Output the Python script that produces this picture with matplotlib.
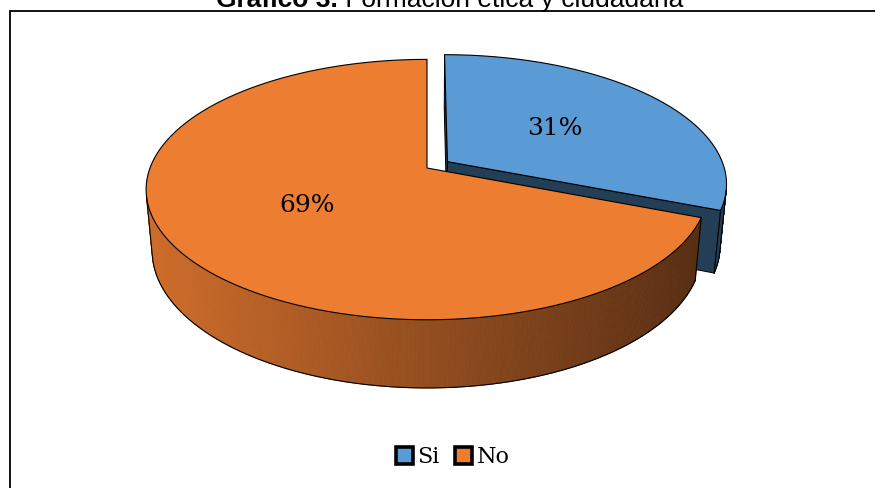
import numpy as np
import matplotlib.pyplot as plt
from matplotlib.patches import Polygon, Patch

labels = ['Si', 'No']
values = [31, 69]
top_colors = ['#5B9BD5', '#ED7D31']
side_colors = ['#243E56', '#A6582A']
explode = [0.09, 0.0]
title_bold = 'Gráfico 3.'
title_rest = ' Formación ética y ciudadana'

# camera for the fake 3d pie
phi = np.radians(27.2)
cs, sn = np.cos(phi), np.sin(phi)
dist = 5.37
scale = 277
cx, cy = 427, 168
thick = 0.25
cam = np.array([0, -dist * cs, dist * sn])

wall_left = np.array([205, 108, 42]) / 255
wall_right = np.array([88, 46, 19]) / 255


def proj(x, y, z):
    depth = dist + y * cs - z * sn
    u = x * dist / depth
    v = (y * sn + z * cs) * dist / depth
    return cx + scale * u, cy - scale * v


def wall_color(i, x):
    if i == 0:
        return side_colors[0]
    t = np.clip((x - (cx - scale)) / (2 * scale), 0, 1)
    return tuple(wall_left * (1 - t) + wall_right * t)


fig = plt.figure(figsize=(8.75, 4.88), dpi=100)
ax = fig.add_axes([0, 0, 1, 1])
ax.set_xlim(0, 875)
ax.set_ylim(488, 0)
ax.axis('off')

total = sum(values)
bounds = np.concatenate([[0], np.cumsum(values)]) / total * 360

for i in range(len(values)):
    a0, a1 = bounds[i], bounds[i + 1]
    mid = np.radians((a0 + a1) / 2)
    off = explode[i] * np.array([np.sin(mid), np.cos(mid)])
    apex = np.array([off[0], off[1], 0.0])

    # radial cut faces
    for a, sign in ((a0, -1), (a1, 1)):
        r = np.radians(a)
        nrm = sign * np.array([np.cos(r), -np.sin(r), 0])
        if nrm @ (cam - apex) > 0:
            ox, oy = off[0] + np.sin(r), off[1] + np.cos(r)
            pts = [proj(off[0], off[1], 0), proj(ox, oy, 0),
                   proj(ox, oy, -thick), proj(off[0], off[1], -thick)]
            ax.add_patch(Polygon(pts, closed=True, fc=side_colors[0] if i == 0 else wall_right,
                                 ec='black', lw=0.7, joinstyle='round'))

    # outer wall
    th = np.radians(np.linspace(a0, a1, 500))
    px, py = off[0] + np.sin(th), off[1] + np.cos(th)
    vis = np.sin(th) * (cam[0] - px) + np.cos(th) * (cam[1] - py) > 0
    idx = np.where(vis)[0]
    if len(idx) > 1:
        j0, j1 = idx[0], idx[-1]
        tx, ty = proj(px, py, np.zeros_like(px))
        bx, by = proj(px, py, np.full_like(px, -thick))
        for k in range(j0, j1):
            quad = [(tx[k], ty[k]), (tx[k + 1], ty[k + 1]), (bx[k + 1], by[k + 1]), (bx[k], by[k])]
            c = wall_color(i, (tx[k] + tx[k + 1]) / 2)
            ax.add_patch(Polygon(quad, closed=True, fc=c, ec=c, lw=0.6))
        ax.plot(bx[j0:j1 + 1], by[j0:j1 + 1], color='black', lw=0.8)
        ax.plot([tx[j0], bx[j0]], [ty[j0], by[j0]], color='black', lw=0.8)
        ax.plot([tx[j1], bx[j1]], [ty[j1], by[j1]], color='black', lw=0.8)

    # top face
    tx, ty = proj(px, py, np.zeros_like(px))
    ax0, ay0 = proj(off[0], off[1], 0)
    pts = [(ax0, ay0)] + list(zip(tx, ty))
    ax.add_patch(Polygon(pts, closed=True, fc=top_colors[i], ec='black', lw=0.8,
                         joinstyle='round'))

    # percentage label
    lr = 0.5
    lx, ly = proj(off[0] + lr * np.sin(mid), off[1] + lr * np.cos(mid), 0)
    ax.text(lx, ly, f'{values[i] / total:.0%}', ha='center', va='center',
            fontsize=18, family='DejaVu Serif', color='black')

# title (cut at the top like the original)
ax.text(338, 7, title_bold, ha='right', va='baseline', fontsize=19,
        fontweight='bold', family='Liberation Sans', clip_on=False)
ax.text(338, 7, title_rest, ha='left', va='baseline', fontsize=19,
        family='Liberation Sans', clip_on=False)

# chart frame
ax.plot([9.5, 9.5, 880], [495, 11, 11], color='black', lw=1.3, clip_on=False,
        solid_joinstyle='miter')

handles = [Patch(fc=c, ec='black', lw=2.6) for c in top_colors]
ax.legend(handles, labels, loc='center', bbox_to_anchor=(453 / 875, 1 - 457 / 488),
          ncol=2, frameon=False, prop={'family': 'DejaVu Serif', 'size': 16},
          handlelength=0.75, handleheight=0.8, handletextpad=0.2, columnspacing=0.7)

fig.savefig('out.png', dpi=100)
